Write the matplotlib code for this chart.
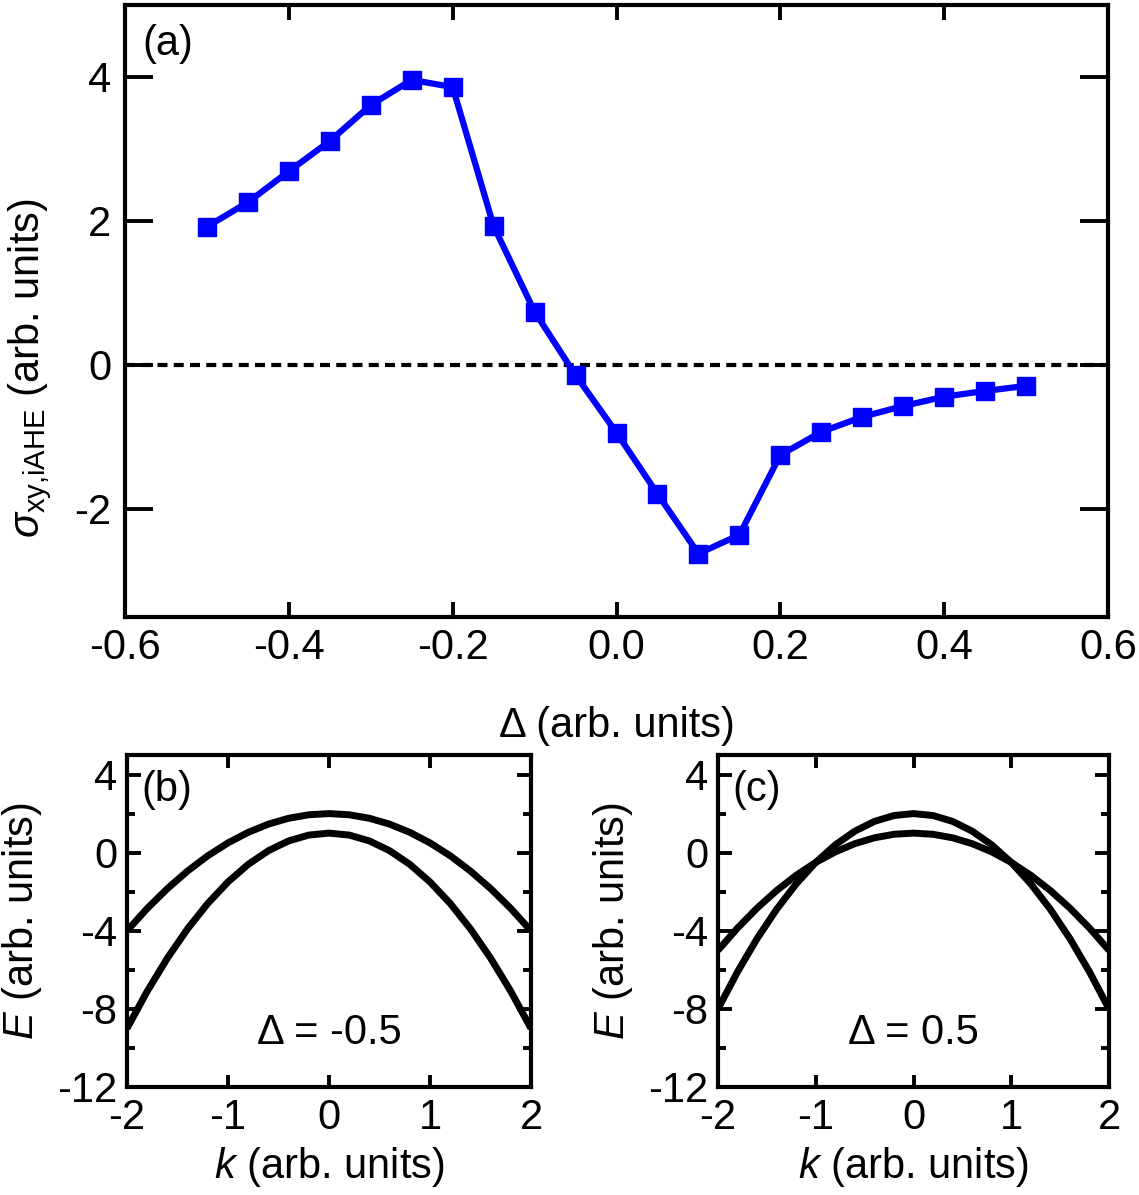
import numpy as np
import matplotlib
matplotlib.use("Agg")
import matplotlib.pyplot as plt

plt.rcParams['font.family'] = ['Liberation Sans', 'DejaVu Sans']
plt.rcParams['mathtext.fontset'] = 'custom'
plt.rcParams['mathtext.rm'] = 'Liberation Sans'
plt.rcParams['mathtext.it'] = 'Liberation Sans:italic'
plt.rcParams['axes.unicode_minus'] = False

# panel (a): intrinsic AHE vs Delta
delta = [-0.5, -0.45, -0.4, -0.35, -0.3, -0.25, -0.2, -0.15, -0.1, -0.05, 0.0,
         0.05, 0.1, 0.15, 0.2, 0.25, 0.3, 0.35, 0.4, 0.45, 0.5]
sigma = [1.92, 2.26, 2.69, 3.11, 3.61, 3.96, 3.86, 1.93, 0.74, -0.14, -0.94,
         -1.79, -2.62, -2.36, -1.25, -0.93, -0.72, -0.57, -0.44, -0.36, -0.29]

# panels (b), (c): bands E(k)
k = [-2.0, -1.8, -1.6, -1.4, -1.2, -1.0, -0.8, -0.6, -0.4, -0.2, 0.0,
     0.2, 0.4, 0.6, 0.8, 1.0, 1.2, 1.4, 1.6, 1.8, 2.0]
b_upper = [-4.0, -2.86, -1.84, -0.94, -0.16, 0.5, 1.04, 1.46, 1.76, 1.94, 2.0,
           1.94, 1.76, 1.46, 1.04, 0.5, -0.16, -0.94, -1.84, -2.86, -4.0]
b_lower = [-9.0, -7.1, -5.4, -3.9, -2.6, -1.5, -0.6, 0.1, 0.6, 0.9, 1.0,
           0.9, 0.6, 0.1, -0.6, -1.5, -2.6, -3.9, -5.4, -7.1, -9.0]
c_narrow = [-8.0, -6.1, -4.4, -2.9, -1.6, -0.5, 0.4, 1.1, 1.6, 1.9, 2.0,
            1.9, 1.6, 1.1, 0.4, -0.5, -1.6, -2.9, -4.4, -6.1, -8.0]
c_wide = [-5.0, -3.86, -2.84, -1.94, -1.16, -0.5, 0.04, 0.46, 0.76, 0.94, 1.0,
          0.94, 0.76, 0.46, 0.04, -0.5, -1.16, -1.94, -2.84, -3.86, -5.0]

W, H = 1139, 1195
fig = plt.figure(figsize=(W / 100, H / 100), dpi=100)


def px_axes(x0, y0, x1, y1):
    return fig.add_axes([x0 / W, 1 - y1 / H, (x1 - x0) / W, (y1 - y0) / H])


fs = 30

# ---- (a)
ax = px_axes(125, 5, 1108, 617)
ax.axhline(0, color='k', lw=3, dashes=(2.4, 1.5), zorder=1)
ax.plot(delta, sigma, color='#0000ff', lw=4.5, marker='s', ms=12.5, zorder=3)
ax.set_xlim(-0.6, 0.6)
ax.set_ylim(-3.5, 5)
ax.set_xticks(np.arange(-0.6, 0.61, 0.2))
ax.set_xticklabels(['-0.6', '-0.4', '-0.2', '0.0', '0.2', '0.4', '0.6'])
ax.set_yticks([-2, 0, 2, 4])
ax.set_yticklabels(['-2', '0', '2', '4'])
ax.tick_params(direction='in', top=True, right=True, labelsize=fs, width=2.8)
ax.tick_params(axis='x', length=11, pad=8)
ax.tick_params(axis='y', length=20, pad=10)
for s in ax.spines.values():
    s.set_linewidth(3)
fig.text(142 / W, 1 - 44 / H, '(a)', fontsize=fs, va='center', ha='left')
fig.text(617 / W, 1 - 726 / H, 'Δ (arb. units)',
         fontsize=fs, ha='center', va='center')
fig.text(30 / W, 1 - 368 / H, r'$\sigma_{\mathrm{xy{,}iAHE}}$ (arb. units)',
         fontsize=fs, ha='center', va='center', rotation=90)

# ---- (b), (c)
panels = [
    ((127, 755, 531, 1087), b_upper, b_lower, '(b)', 'Δ = -0.5', 22),
    ((718, 755, 1109, 1087), c_narrow, c_wide, '(c)', 'Δ = 0.5', 613),
]
for (x0, y0, x1, y1), e1, e2, lab, ann, ylx in panels:
    a = px_axes(x0, y0, x1, y1)
    a.plot(k, e1, color='k', lw=5, solid_capstyle='butt', solid_joinstyle='round')
    a.plot(k, e2, color='k', lw=5, solid_capstyle='butt', solid_joinstyle='round')
    a.set_xlim(-2, 2)
    a.set_ylim(-12, 5)
    a.set_xticks([-2, -1, 0, 1, 2])
    a.set_yticks([-12, -8, -4, 0, 4])
    a.set_yticks([-10, -6, -2, 2], minor=True)
    a.tick_params(direction='in', top=True, right=True, labelsize=fs, width=2.8)
    a.tick_params(which='minor', direction='in', top=True, right=True,
                  length=6, width=2.8)
    a.tick_params(axis='x', length=9, pad=8)
    a.tick_params(axis='y', which='major', length=10, pad=7)
    a.xaxis.set_minor_locator(matplotlib.ticker.NullLocator())
    for s in a.spines.values():
        s.set_linewidth(3)
    fig.text((x0 + 14) / W, 1 - 790 / H, lab, fontsize=fs, va='center', ha='left')
    fig.text((x0 + x1) / 2 / W, 1 - 1033 / H, ann, fontsize=fs,
             ha='center', va='center')
    fig.text((x0 + x1) / 2 / W, 1 - 1167 / H, r'$\mathit{k}$ (arb. units)',
             fontsize=fs, ha='center', va='center')
    fig.text(ylx / W, 1 - 921 / H, r'$\mathit{E}$ (arb. units)', fontsize=fs,
             ha='center', va='center', rotation=90)

fig.savefig('out.png', dpi=100)
